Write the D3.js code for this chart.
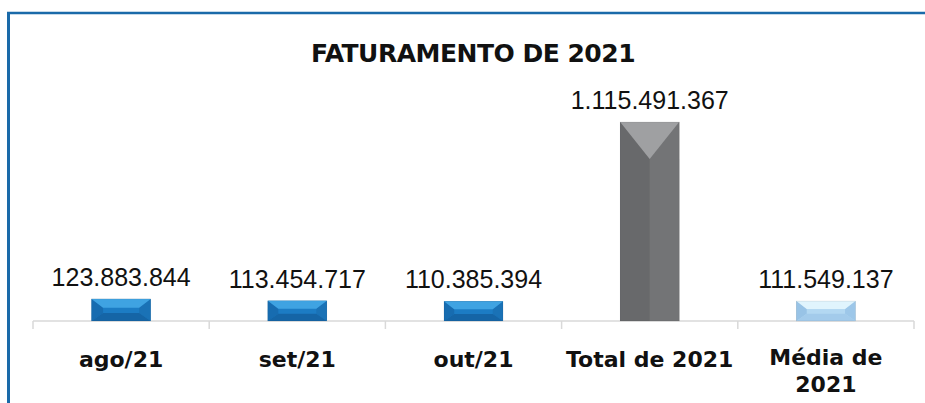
<!DOCTYPE html>
<html>
<head>
<meta charset="utf-8">
<script src="https://cdn.jsdelivr.net/npm/d3@7"></script>
<style>
  html, body { margin: 0; padding: 0; background: #fff; }
  svg { display: block; }
</style>
</head>
<body>
<script>
// data
var categories = ["ago/21", "set/21", "out/21", "Total de 2021", "Média de 2021"];
var values = [123883844, 113454717, 110385394, 1115491367, 111549137];
var barKind = ["month", "month", "month", "total", "average"];
var title = "FATURAMENTO DE 2021";

var W = 925, H = 403;
var axisY = 321;

// colours for the bevelled bars: face, top, left, right, bottom
var palette = {
    month:   { face: "#1c7cc4", top: "#3fa3e2", left: "#176cb0", right: "#1a72b6", bottom: "#1565a6" },
    total:   { face: "#6e6f71", top: "#9fa0a2", left: "#68696b", right: "#737476", bottom: "#666769" },
    average: { face: "#b3d8f2", top: "#e0f4fd", left: "#98c3e6", right: "#9dc7e9", bottom: "#a3cbeb" }
};

var svg = d3.select("body").append("svg")
    .attr("width", W)
    .attr("height", H);

// frame (top + left blue rule)
svg.append("line")
    .attr("x1", 7).attr("x2", W).attr("y1", 13).attr("y2", 13)
    .attr("stroke", "#1a6aa9").attr("stroke-width", 2.6);
svg.append("line")
    .attr("x1", 8.5).attr("x2", 8.5).attr("y1", 12).attr("y2", H)
    .attr("stroke", "#1a6aa9").attr("stroke-width", 3);

svg.append("text")
    .attr("x", 473).attr("y", 62)
    .attr("text-anchor", "middle")
    .attr("font-family", "DejaVu Sans")
    .attr("font-weight", "bold")
    .attr("font-size", 25)
    .attr("letter-spacing", -0.5)
    .attr("fill", "#111")
    .text(title);

var x = d3.scaleBand().domain(categories).range([33, 914]).paddingInner(0).paddingOuter(0);
var y = d3.scaleLinear().domain([0, d3.max(values)]).range([axisY, 122]);

var fmt = d3.formatLocale({ decimal: ",", thousands: ".", grouping: [3], currency: ["R$", ""] }).format(",d");

var barW = x.bandwidth() * 0.335;

// axis line + ticks at the band edges
svg.append("line")
    .attr("x1", x.range()[0]).attr("x2", x.range()[1])
    .attr("y1", axisY).attr("y2", axisY)
    .attr("stroke", "#d9d9d9").attr("stroke-width", 1.5);

var edges = categories.map(function(c) { return x(c); }).concat([x.range()[1]]);
svg.selectAll(".tick").data(edges).enter().append("line")
    .attr("class", "tick")
    .attr("x1", function(d) { return d; }).attr("x2", function(d) { return d; })
    .attr("y1", axisY).attr("y2", axisY + 8)
    .attr("stroke", "#d9d9d9").attr("stroke-width", 1.5);

// bars drawn as bevelled facets
var bars = svg.selectAll(".bar").data(values).enter().append("g").attr("class", "bar");

bars.each(function(v, i) {
    var g = d3.select(this);
    var cx = x(categories[i]) + x.bandwidth() / 2;
    var x0 = cx - barW / 2, x1 = cx + barW / 2;
    var y0 = y(v), y1 = y(0);
    var h = y1 - y0;
    var d = Math.min(37, h * 0.4);
    var ins = Math.min(barW / 2, d * 1.3);
    var db = h < 40 ? (h - d) * 0.6 : 0;
    var c = palette[barKind[i]];
    function poly(pts, fill) {
        g.append("polygon")
            .attr("points", pts.map(function(p) { return p.join(","); }).join(" "))
            .attr("fill", fill);
    }
    g.append("rect")
        .attr("x", x0).attr("y", y0).attr("width", barW).attr("height", h)
        .attr("fill", c.face);
    poly([[x0, y0], [x0 + ins, y0 + d], [x0 + ins, y1 - db], [x0, y1]], c.left);
    poly([[x1, y0], [x1 - ins, y0 + d], [x1 - ins, y1 - db], [x1, y1]], c.right);
    if (db > 0) poly([[x0, y1], [x0 + ins, y1 - db], [x1 - ins, y1 - db], [x1, y1]], c.bottom);
    poly([[x0, y0], [x1, y0], [x1 - ins, y0 + d], [x0 + ins, y0 + d]], c.top);
    g.append("rect")
        .attr("x", x0).attr("y", y0).attr("width", barW).attr("height", h)
        .attr("fill", "none").attr("stroke", "rgba(0,0,0,0.12)").attr("stroke-width", 0.6);
});

// value labels
svg.selectAll(".val").data(values).enter().append("text")
    .attr("class", "val")
    .attr("x", function(d, i) { return x(categories[i]) + x.bandwidth() / 2; })
    .attr("y", function(d) { return y(d) - 13; })
    .attr("text-anchor", "middle")
    .attr("font-family", "Liberation Sans")
    .attr("font-size", 25)
    .attr("fill", "#111")
    .text(function(d) { return fmt(d); });

// category labels, wrapped when wider than the band
var labels = svg.selectAll(".cat").data(categories).enter().append("text")
    .attr("class", "cat")
    .attr("x", function(d) { return x(d) + x.bandwidth() / 2; })
    .attr("y", 367)
    .attr("text-anchor", "middle")
    .attr("font-family", "DejaVu Sans")
    .attr("font-weight", "bold")
    .attr("font-size", 22)
    .attr("fill", "#111")
    .text(function(d) { return d; });

labels.each(function(d) {
    var t = d3.select(this);
    if (this.getComputedTextLength() <= x.bandwidth()) return;
    var words = d.split(" ");
    var last = words.pop();
    var cx = t.attr("x");
    t.text(null).attr("y", 365);
    t.append("tspan").attr("x", cx).attr("dy", 0).text(words.join(" "));
    t.append("tspan").attr("x", cx).attr("dy", 27).text(last);
});
</script>
</body>
</html>
